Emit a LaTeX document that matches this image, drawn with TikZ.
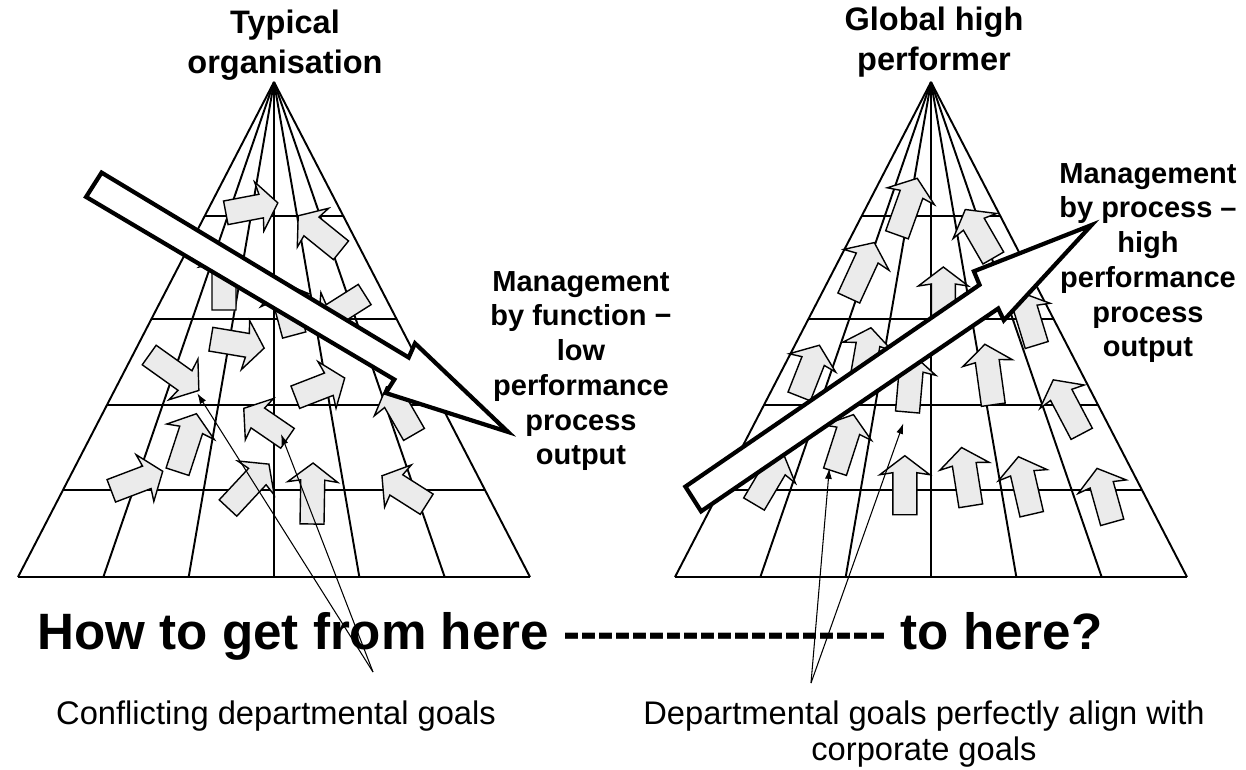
\documentclass[tikz,border=0pt]{standalone}
\usepackage{fontspec}
\setmainfont{Liberation Sans}
\usetikzlibrary{arrows.meta}

\tikzset{
  gridline/.style={line width=1.1pt},
  deptarrow/.style={draw, fill=black!8, line width=0.8pt, line join=miter},
  bigarrow/.style={draw, fill=white, line width=2.4pt, line join=miter},
  pointer/.style={line width=0.6pt, -{Latex[length=6pt,width=4pt]}},
  heading/.style={font=\fontsize{18.5}{22.5}\selectfont\bfseries, align=center, inner sep=0pt},
  sidelabel/.style={font=\fontsize{16.5}{19.8}\selectfont\bfseries, align=center, inner sep=0pt},
  question/.style={font=\fontsize{29.1}{32}\selectfont\bfseries, inner sep=0pt},
  caption/.style={font=\fontsize{18.6}{20.4}\selectfont, align=center, inner sep=0pt}
}
\newcommand{\dashrun}{\foreach \k in {1,...,19}{\mbox{-}}}

\begin{document}
\begin{tikzpicture}[x=0.02cm, y=-0.02cm]
\useasboundingbox (0,0) rectangle (1246,769);

% the two pyramids
\foreach \cx in {274,931}
{
    \foreach \i in {0,...,6}
        \draw[gridline] (\cx,82) -- ({\cx-256+\i*512/6},577);
    \foreach \h in {216,319,405,490,577}
        \draw[gridline] ({\cx-(\h-82)/495*256},\h) -- ({\cx+(\h-82)/495*256},\h);
}

% departmental goals: tail x / tail y / angle / length
\foreach \x/\y/\ang/\len in {225.8/212.8/10.8/53, 341/250.3/141.1/55, 224/310/90/62,
    294.2/335/105/55, 364.7/294.5/212.3/55, 210.9/339.2/-9.5/54, 149.2/355/-35.5/61,
    177.5/471.7/71.9/61, 111.3/490.8/20.8/55, 228/508/47/60, 295.3/397.2/21.2/53,
    287.5/438.3/145.6/53, 312/524/89/61, 426.7/504.2/147.6/53, 414/434.4/120/55,
    897/234.8/70.3/60, 993.3/258/120/56, 848.8/298/65.3/61, 943.3/325/90/58,
    1036.7/345/107/55, 799.2/396.4/68.5/55, 861.4/381.9/80/55, 907.5/412/85/58,
    835/471.7/72.1/60, 754/504/59.4/58, 970.8/505.8/99/59, 1031.7/514.2/103/59,
    1112.2/522.3/105.7/56, 1081.7/433.8/117.8/61, 993.3/404.7/97.9/61, 904.8/514.7/90/59}
{
    \draw[deptarrow, shift={(\x,\y)}, rotate=\ang] (0,-12) -- ({\len-17},-12) -- ({\len-19},-25)
        -- (\len,0) -- ({\len-19},25) -- ({\len-17},12) -- (0,12) -- cycle;
}

% process arrows
\draw[bigarrow] (101.6,172.6) -- (408.7,357.5) -- (415,343.3) -- (508,431.9) -- (385.7,393)
    -- (394.3,379.5) -- (86.1,196.9) -- cycle;
\draw[bigarrow] (701.1,511.3) -- (998.2,308.5) -- (1003.8,320.3) -- (1091.6,225) -- (973.9,271.3)
    -- (979.5,284.8) -- (685.4,486.6) -- cycle;

\node[heading] (typical) at (285,45) {Typical\\organisation};
\node[heading] (global) at (934,42) {Global high\\performer};
\node[sidelabel] (byfunction) at (581,371) {Management\\by function \textminus\\low\\performance\\process\\output};
\node[sidelabel] (byprocess) at (1148,263) {Management\\by process \textendash\\high\\performance\\process\\output};
\node[question] (howto) at (570,636) {How to get from here \dashrun{} to here?};
\node[caption] (conflicting) at (276,716) {Conflicting departmental goals};
\node[caption] (aligned) at (924,734) {Departmental goals perfectly align with\\corporate goals};

% pointers to the goals
\coordinate (conflict) at (373,672);
\coordinate (clash1) at (197.3,393.3);
\coordinate (clash2) at (281,434);
\coordinate (align) at (811,683);
\coordinate (match1) at (829.3,468.3);
\coordinate (match2) at (903.3,423.3);
\draw[pointer] (conflict) -- (clash1);
\draw[pointer] (conflict) -- (clash2);
\draw[pointer] (align) -- (match1);
\draw[pointer] (align) -- (match2);
\end{tikzpicture}
\end{document}
